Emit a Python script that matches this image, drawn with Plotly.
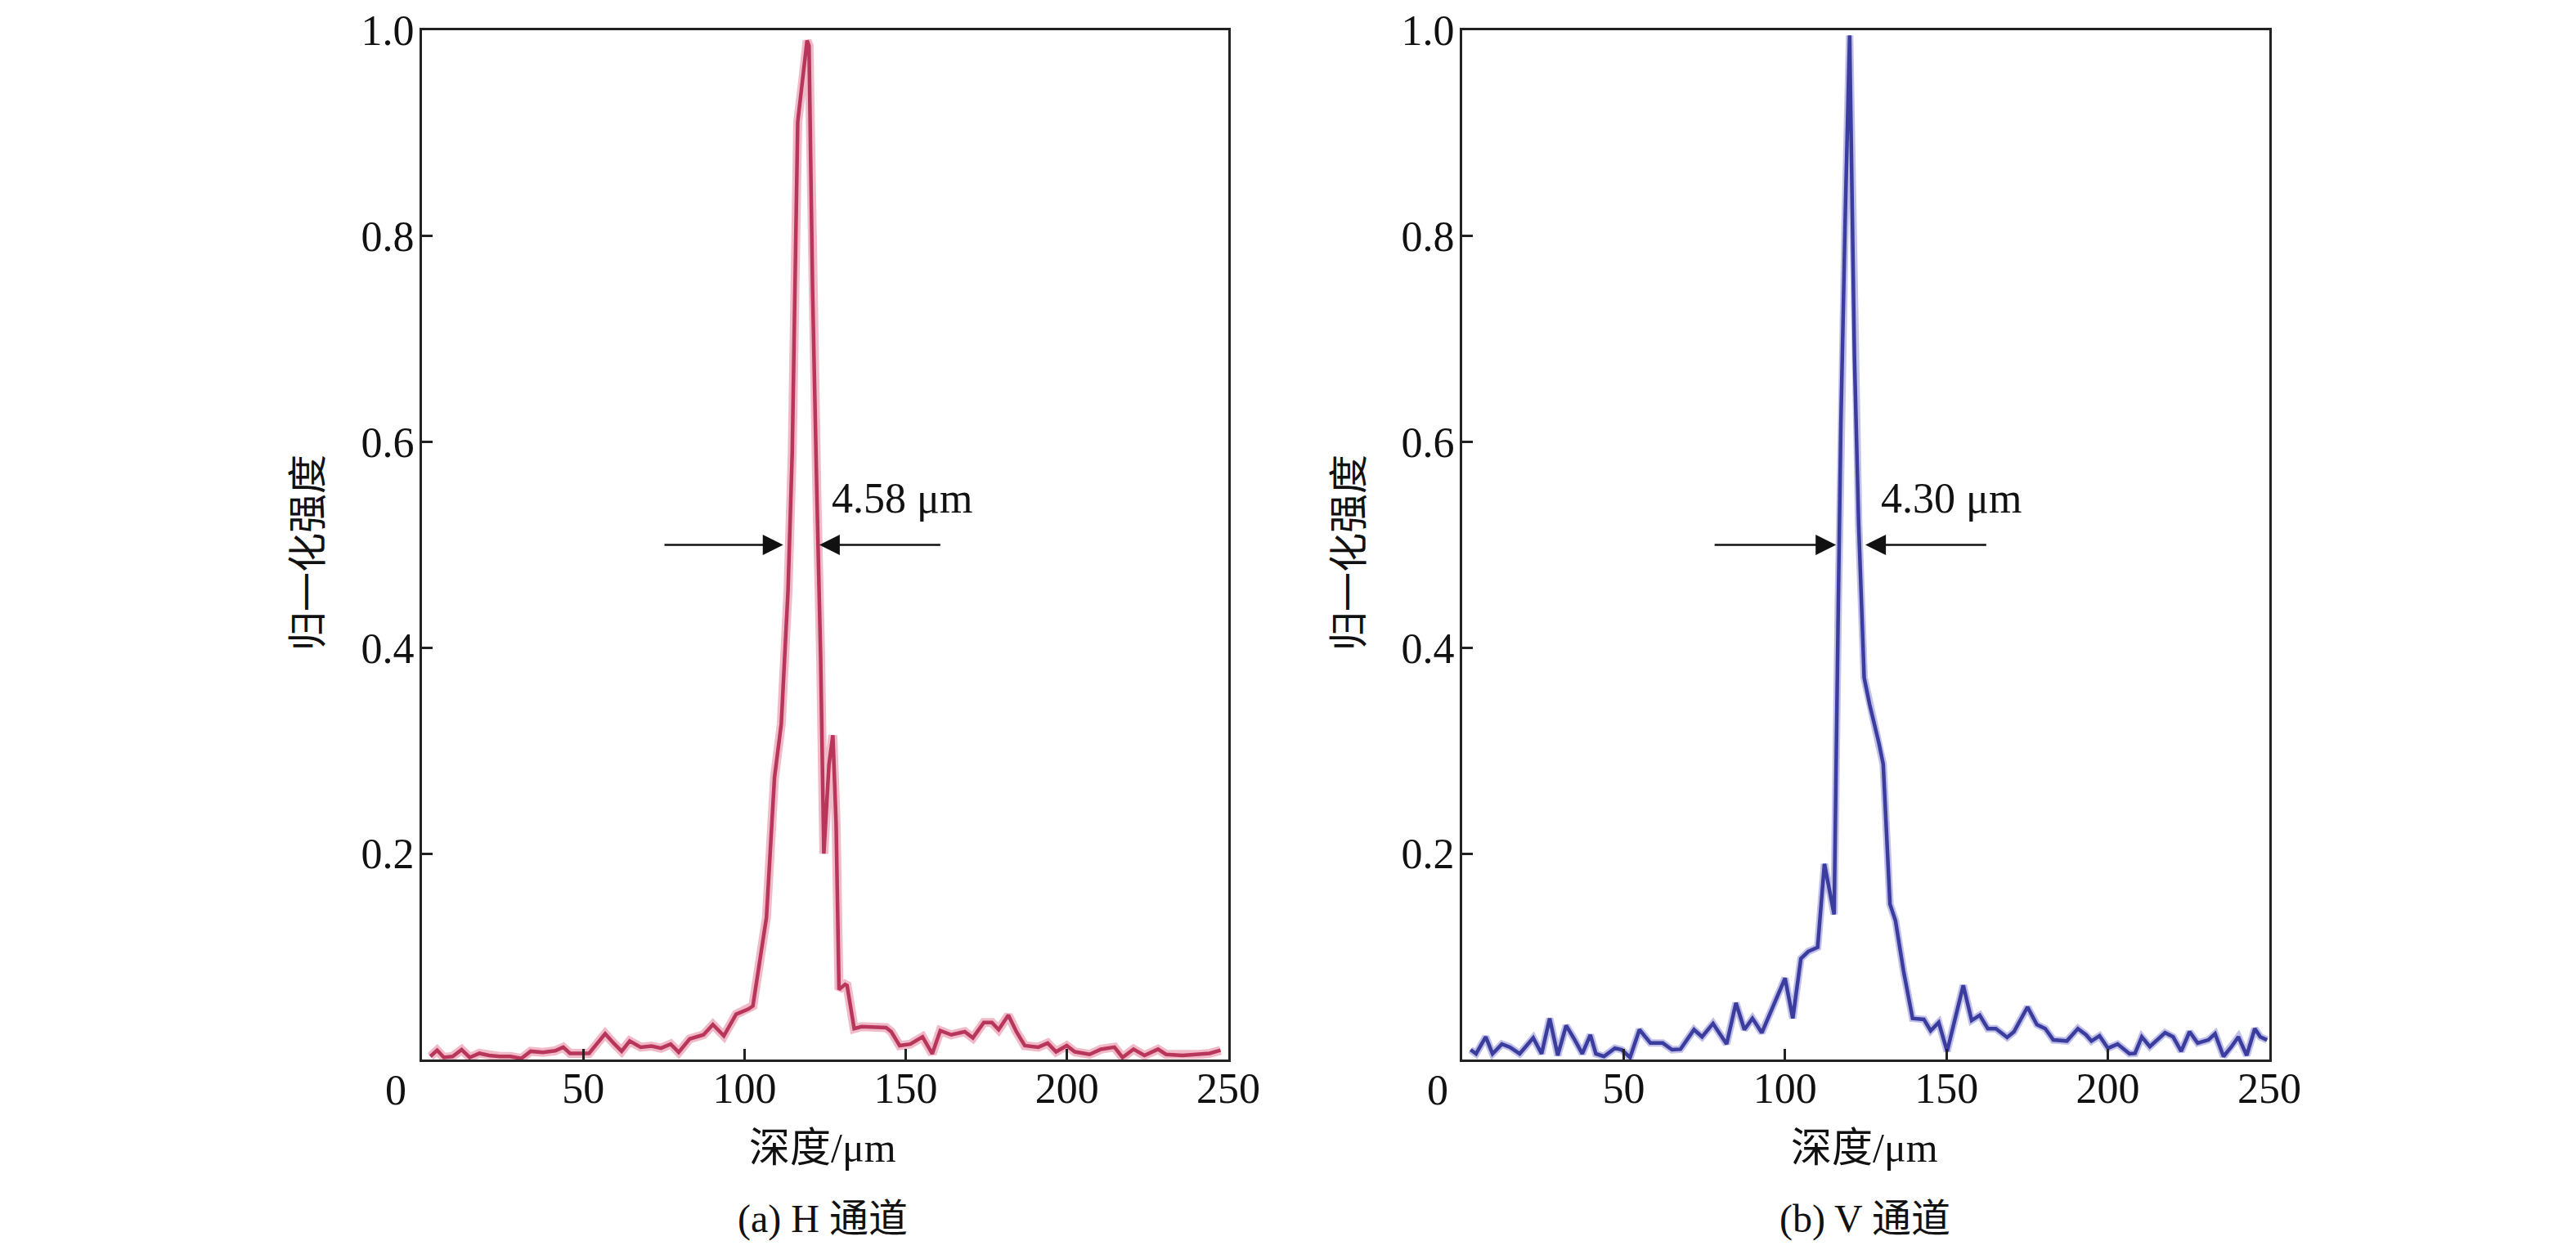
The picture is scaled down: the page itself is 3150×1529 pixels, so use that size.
import plotly.graph_objects as go

# H channel (a)
h_depth = [2.6, 4.7, 6.8, 9.5, 12.3, 14.8, 17.8, 20.8, 24.1, 27.4, 30.8, 33.7, 37.5, 41.3, 43.8,
           45.9, 49.3, 51.8, 53.9, 56.8, 59.4, 61.9, 64.4, 67.8, 71.2, 74.1, 77.1, 79.6, 83.0,
           87.3, 90.2, 93.6, 97.4, 101.2, 102.6, 106.8, 109.3, 111.4, 113.5, 114.8, 116.5,
           118.2, 119.4, 120.0, 121.1, 122.4, 123.6, 124.6, 126.2, 127.4, 128.4, 129.3, 131.2,
           131.8, 134.0, 136.3, 143.9, 145.5, 148.1, 151.4, 155.2, 158.2, 160.7, 164.1, 168.3,
           170.8, 174.2, 176.7, 178.8, 181.8, 184.3, 186.9, 191.1, 194.0, 196.6, 199.9, 202.4,
           207.0, 210.5, 214.7, 217.2, 220.6, 224.0, 228.2, 230.7, 235.8, 240.8, 244.2, 247.6]
h_int = [0.003, 0.009, 0.002, 0.003, 0.0095, 0.002, 0.006, 0.004, 0.003, 0.003, 0.001, 0.008,
         0.007, 0.0085, 0.012, 0.006, 0.006, 0.006, 0.014, 0.025, 0.016, 0.008, 0.018, 0.012,
         0.013, 0.011, 0.015, 0.007, 0.020, 0.024, 0.034, 0.023, 0.044, 0.049, 0.052, 0.138,
         0.274, 0.326, 0.456, 0.590, 0.911, 0.955, 0.990, 0.985, 0.748, 0.554, 0.391, 0.200,
         0.287, 0.315, 0.229, 0.068, 0.073, 0.072, 0.030, 0.032, 0.031, 0.027, 0.0135, 0.015,
         0.022, 0.0056, 0.028, 0.024, 0.027, 0.021, 0.036, 0.036, 0.029, 0.043, 0.027, 0.0135,
         0.012, 0.016, 0.0075, 0.0135, 0.0075, 0.005, 0.010, 0.012, 0.002, 0.010, 0.004, 0.010,
         0.005, 0.004, 0.005, 0.006, 0.009]

# V channel (b)
v_depth = [2.6, 4.3, 7.3, 9.4, 12.3, 14.8, 17.8, 22.0, 24.6, 27.1, 29.6, 32.2, 34.7, 37.2, 39.7,
           41.4, 43.9, 47.3, 49.4, 52.0, 54.9, 58.3, 62.1, 65.0, 67.6, 71.8, 74.3, 77.7, 81.9,
           84.8, 87.4, 89.9, 92.8, 95.4, 100.0, 102.4, 104.9, 107.2, 110.1, 112.2, 113.5, 115.2,
           116.5, 117.3, 118.6, 120.0, 121.5, 122.8, 124.5, 126.2, 129.1, 130.4, 132.5, 134.2,
           136.7, 139.5, 143.0, 145.1, 147.6, 150.2, 152.7, 155.2, 157.8, 160.3, 162.8, 165.3,
           168.8, 170.9, 175.1, 178.0, 180.6, 183.1, 187.3, 190.7, 193.2, 194.9, 197.4, 200.0,
           203.0, 206.7, 208.4, 210.5, 213.0, 217.7, 220.2, 222.7, 225.3, 227.8, 231.1, 233.2,
           235.8, 238.3, 240.4, 243.0, 245.5, 247.2, 249.3]
v_int = [0.0095, 0.0056, 0.022, 0.0056, 0.015, 0.012, 0.0056, 0.021, 0.0056, 0.040, 0.004, 0.033,
         0.020, 0.0056, 0.024, 0.0056, 0.003, 0.011, 0.0095, 0.002, 0.029, 0.016, 0.016, 0.0095,
         0.010, 0.029, 0.022, 0.035, 0.015, 0.055, 0.029, 0.040, 0.026, 0.045, 0.079, 0.040,
         0.098, 0.105, 0.109, 0.190, 0.167, 0.141, 0.443, 0.618, 0.813, 0.995, 0.683, 0.520,
         0.371, 0.345, 0.307, 0.287, 0.151, 0.135, 0.086, 0.040, 0.039, 0.028, 0.036, 0.008,
         0.040, 0.072, 0.038, 0.043, 0.030, 0.030, 0.0215, 0.027, 0.051, 0.034, 0.030, 0.019,
         0.018, 0.030, 0.024, 0.018, 0.023, 0.011, 0.015, 0.0056, 0.006, 0.022, 0.0125, 0.026,
         0.022, 0.008, 0.027, 0.016, 0.019, 0.025, 0.003, 0.0125, 0.022, 0.004, 0.030, 0.022,
         0.019]

x_ticks = [50, 100, 150, 200, 250]
y_ticks = [0.2, 0.4, 0.6, 0.8, 1.0]
y_ticktext = ["0.2", "0.4", "0.6", "0.8", "1.0"]

# FWHM markers: (left tail, left tip, right tip, right tail, label x, label)
h_fwhm = (74.8, 112.0, 123.2, 161.1, 126.5, "4.58 μm")
v_fwhm = (77.8, 115.8, 124.9, 162.7, 129.1, "4.30 μm")

W, H = 3150, 1529
num_font = "Liberation Serif, Noto Sans CJK SC"

fig = go.Figure()
fig.add_trace(go.Scatter(x=h_depth, y=h_int, mode="lines", xaxis="x", yaxis="y",
                         line=dict(color="rgba(232,140,165,0.6)", width=11), hoverinfo="skip"))
fig.add_trace(go.Scatter(x=h_depth, y=h_int, mode="lines", xaxis="x", yaxis="y",
                         line=dict(color="#b8365a", width=4.5)))
fig.add_trace(go.Scatter(x=v_depth, y=v_int, mode="lines", xaxis="x2", yaxis="y2",
                         line=dict(color="rgba(140,140,215,0.55)", width=9), hoverinfo="skip"))
fig.add_trace(go.Scatter(x=v_depth, y=v_int, mode="lines", xaxis="x2", yaxis="y2",
                         line=dict(color="#3a3c9e", width=4.5)))

xax = dict(range=[0, 250], tickvals=x_ticks, ticks="inside", ticklen=13, tickwidth=3,
           tickcolor="#222", showline=True, linecolor="#222", linewidth=3, mirror=True,
           showgrid=False, zeroline=False, automargin=False, ticklabelstandoff=-12,
           tickfont=dict(family=num_font, size=52, color="#111"))
yax = dict(range=[0, 1], tickvals=y_ticks, ticktext=y_ticktext, ticks="inside", ticklen=13,
           tickwidth=3, tickcolor="#222", showline=True, linecolor="#222", linewidth=3,
           mirror=True, showgrid=False, zeroline=False, automargin=False, ticklabelstandoff=-4,
           tickfont=dict(family=num_font, size=52, color="#111"))

yd = [1 - 1288 / H, 1 - 29 / H]
fig.update_layout(
    width=W, height=H, margin=dict(l=0, r=0, t=0, b=0, autoexpand=False),
    paper_bgcolor="white", plot_bgcolor="white", showlegend=False,
    xaxis=dict(xax, domain=[508 / W, 1494 / W], anchor="y"),
    yaxis=dict(yax, domain=yd, anchor="x"),
    xaxis2=dict(xax, domain=[1780 / W, 2767 / W], anchor="y2"),
    yaxis2=dict(yax, domain=yd, anchor="x2"),
)

ann = []
panels = [("x", "y", h_fwhm, 476, 368, 998, "(a) H 通道"),
          ("x2", "y2", v_fwhm, 1750, 1641, 2272, "(b) V 通道")]
for xr, yr, fw, zero_x, ytitle_x, cx, caption in panels:
    l_tail, l_tip, r_tip, r_tail, lab_x, lab = fw
    for tip, tail in [(l_tip, l_tail), (r_tip, r_tail)]:
        ann.append(dict(x=tip, y=0.5, ax=tail, ay=0.5, xref=xr, yref=yr, axref=xr, ayref=yr,
                        text="", showarrow=True, arrowhead=2, arrowsize=2, arrowwidth=2.5,
                        arrowcolor="#111"))
    ann.append(dict(x=lab_x, y=0.545, xref=xr, yref=yr, text=lab, showarrow=False,
                    xanchor="left", yanchor="middle",
                    font=dict(family=num_font, size=52, color="#111")))
    ann.append(dict(x=zero_x / W, y=1 - 1325 / H, xref="paper", yref="paper", text="0",
                    showarrow=False, xanchor="center", yanchor="middle",
                    font=dict(family=num_font, size=52, color="#111")))
    ann.append(dict(x=ytitle_x / W, y=1 - 668 / H, xref="paper", yref="paper",
                    text="归一化强度", textangle=-90, showarrow=False,
                    xanchor="center", yanchor="middle",
                    font=dict(family=num_font, size=48, color="#111")))
    ann.append(dict(x=cx / W, y=1 - 1396 / H, xref="paper", yref="paper", text="深度/μm",
                    showarrow=False, xanchor="center", yanchor="middle",
                    font=dict(family=num_font, size=50, color="#111")))
    ann.append(dict(x=cx / W, y=1 - 1483 / H, xref="paper", yref="paper", text=caption,
                    showarrow=False, xanchor="center", yanchor="middle",
                    font=dict(family=num_font, size=48, color="#111")))
fig.update_layout(annotations=ann)

fig.write_html("out.html")
